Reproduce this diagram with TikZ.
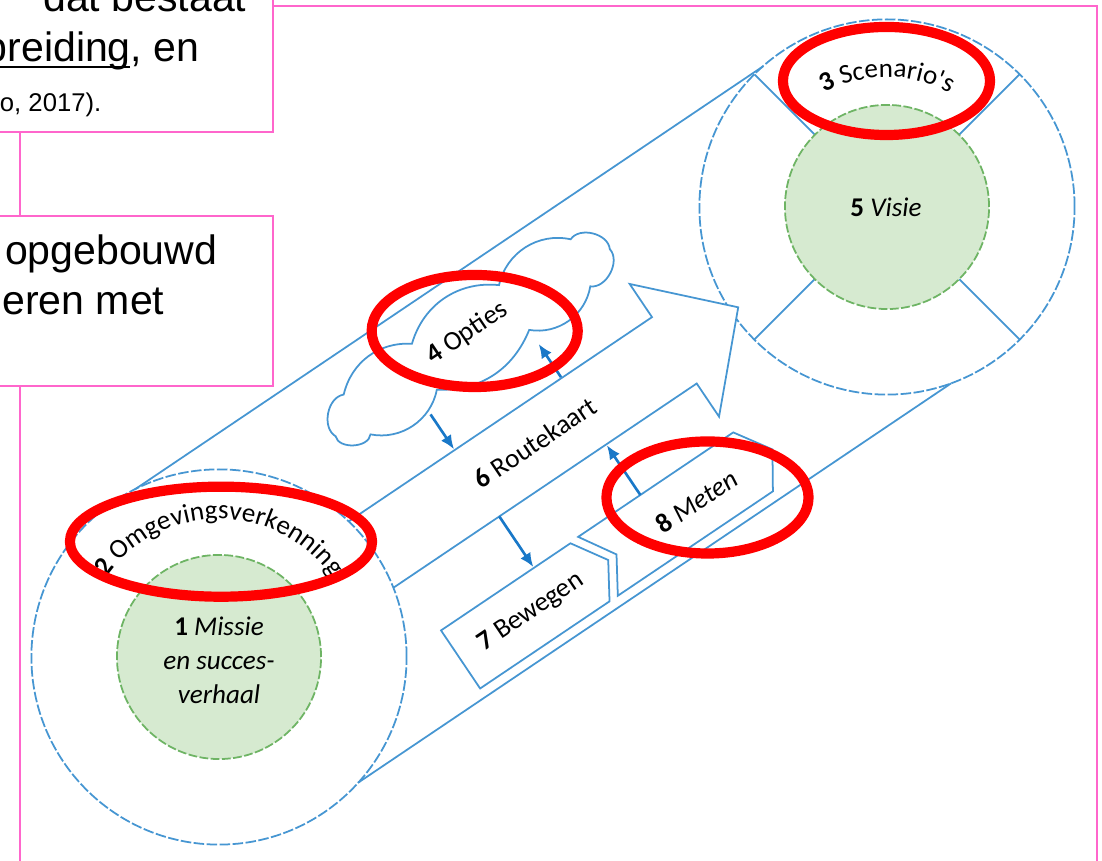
\documentclass[tikz,border=0pt]{standalone}
\usepackage{fontspec}
\setmainfont{Liberation Sans}
\newfontfamily\dfont{Carlito}
\newcommand\dsize{\dfont\fontsize{7.7pt}{9pt}\selectfont}
\usetikzlibrary{arrows.meta,decorations.text}
\definecolor{pinkline}{RGB}{255,102,204}
\definecolor{blueline}{RGB}{70,150,210}
\definecolor{bluearrow}{RGB}{25,120,200}
\definecolor{greenfill}{RGB}{214,234,208}
\definecolor{greenline}{RGB}{110,180,100}
\definecolor{markred}{RGB}{255,0,0}
\tikzset{
  pinkbox/.style={draw=pinkline, line width=0.6pt},
  bline/.style={draw=blueline, line width=0.5pt},
  circdash/.style={dash pattern=on 3pt off 0.7pt},
  greencirc/.style={circle, minimum size=2.04cm, inner sep=0pt, fill=greenfill, draw=greenline, line width=0.5pt, dash pattern=on 2.5pt off 0.7pt},
  lbl/.style={font=\dfont\fontsize{7.7pt}{9.7pt}\selectfont, inner sep=0pt},
  arr/.style={draw=bluearrow, line width=0.75pt, -{Latex[length=4pt,width=3.4pt]}},
  redmark/.style={draw=markred, line width=2.9pt},
  bigtxt/.style={font=\fontsize{11.67pt}{14pt}\selectfont, inner sep=0pt, anchor=base east},
  smalltxt/.style={font=\fontsize{7.3pt}{9pt}\selectfont, inner sep=0pt, anchor=base east}
}
\begin{document}
\begin{tikzpicture}[x=0.01cm,y=0.01cm]
\clip (0,0) rectangle (1102,861);
\fill[white] (0,0) rectangle (1102,861);

% large pink frame
\draw[pinkbox] (20,-20) rectangle (1097,855);

% cylinder ends
\coordinate (L) at (219,204);
\coordinate (R) at (887,654);
\draw[bline, circdash] (L) circle[radius=1.875cm];
\draw[bline, circdash] (R) circle[radius=1.875cm];
\foreach \a in {45,135,225,315} \draw[bline] (R) ++(\a:102) -- ++(\a:85.5);
\node[greencirc] (c1) at (L) {};
\node[greencirc] (c5) at (R) {};
\node[lbl, align=center] (t1) at (219,201) {\textbf{1}~\textit{Missie}\\\textit{en succes-}\\\textit{verhaal}};
\node[lbl] (t5) at (886,654) {\textbf{5}~\textit{Visie}};

\begin{scope}[shift={(219,204)}, rotate=33.96]
  % cylinder sides
  \draw[bline] (23.6,186) -- (781.4,186);
  \draw[bline] (45,-182) -- (760,-182);
  % route map arrow
  \fill[white] (470,40) -- (549,40) -- (549,80) -- (626,0) -- (549,-80) -- (549,-40) -- (470,-40) -- cycle;
  \draw[bline, line join=miter] (183.2,40) -- (549,40) -- (549,80) -- (626,0) -- (549,-80) -- (549,-40) -- (183.2,-40);
  % Bewegen and Meten
  \draw[bline] (199,-102) -- (355,-102) -- (377,-137) -- (355,-172) -- (199,-172) -- cycle;
  \draw[bline] (365,-101) -- (552,-101) -- (575,-137) -- (552,-172) -- (365,-172) -- (387,-137) -- cycle;
  % cloud
  \draw[bline, fill=white] (220,118) to[bend left=70] (250,148) to[bend left=40] (335,152)
    to[bend left=40] (440,152) to[bend left=45] (525,150) to[bend left=70] (552,120)
    to[bend left=70] (515,100) to[bend left=45] (440,98) to[bend left=35] (330,100)
    to[bend left=45] (250,100) to[bend left=80] cycle;
  % labels
  \node[lbl, rotate=33.96] (t4) at (387,130) {\textbf{4}~Opties};
  \node[lbl, rotate=33.96] (t6) at (382,1) {\textbf{6}~Routekaart};
  \node[lbl, rotate=33.96] (t7) at (284,-137) {\textbf{7}~Bewegen};
  \node[lbl, rotate=33.96] (t8) at (483,-138) {\textbf{8}~\textit{Meten}};
  % small arrows
  \coordinate (a1s) at (311,83);  \coordinate (a1e) at (311,41);
  \coordinate (a2s) at (440,41);  \coordinate (a2e) at (440,81);
  \coordinate (a3s) at (311,-40); \coordinate (a3e) at (311,-101);
  \coordinate (a4s) at (440,-101);\coordinate (a4e) at (440,-41);
  \draw[arr] (a1s) -- (a1e);
  \draw[arr] (a2s) -- (a2e);
  \draw[arr] (a3s) -- (a3e);
  \draw[arr] (a4s) -- (a4e);
\end{scope}

% curved labels
\path[decorate, decoration={text along path, text align=center,
  text={|\dsize\bfseries|2 |\dsize\mdseries|Omgevingsverkenning}}]
  (L) ++(150:138) arc[start angle=150, end angle=30, radius=1.38cm];
\path[decorate, decoration={text along path, text align=center,
  text={|\dsize\bfseries|3 |\dsize\mdseries|Scenario's}}]
  (R) ++(125:130) arc[start angle=125, end angle=55, radius=1.30cm];

% red highlight ellipses
\draw[redmark] (886.5,780) ellipse[x radius=1.035cm, y radius=0.54cm];
\draw[redmark] (474.7,530) ellipse[x radius=1.03cm, y radius=0.56cm];
\draw[redmark] (221,319.3) ellipse[x radius=1.51cm, y radius=0.55cm];
\draw[redmark] (707.5,363.5) ellipse[x radius=1.01cm, y radius=0.56cm];

% pink text boxes
\draw[pinkbox, fill=white] (-20,729.3) rectangle (273.3,900);
\draw[pinkbox, fill=white] (-20,475) rectangle (273.3,645.3);
\node[bigtxt] (b1a) at (247,849) {dat bestaat};
\node[bigtxt] (b1b) at (200,799) {breiding, en};
\draw[line width=0.6pt] (-5,794) -- (130,794);
\node[smalltxt] (b1c) at (102,749) {o, 2017).};
\node[bigtxt] (b2a) at (218,596) {opgebouwd};
\node[bigtxt] (b2b) at (165,546) {eren met};
\end{tikzpicture}
\end{document}
